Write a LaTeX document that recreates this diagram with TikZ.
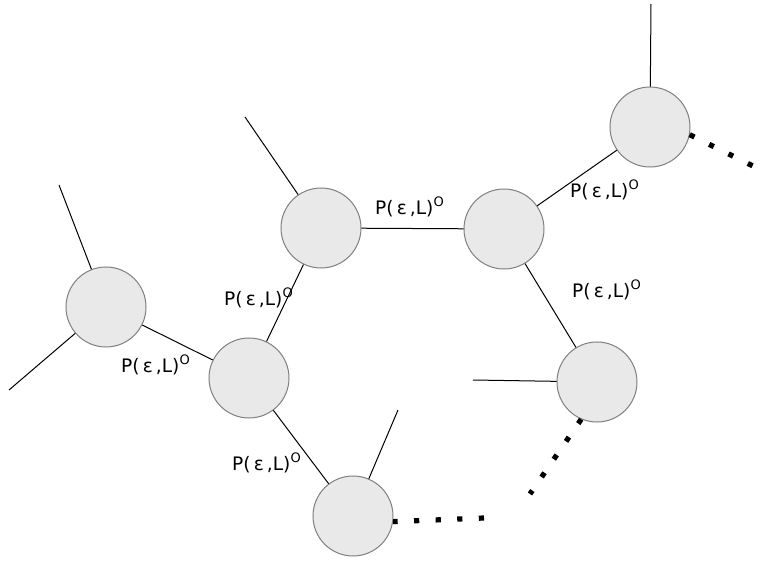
\documentclass[tikz,border=0pt]{standalone}
\usepackage{fontspec}
\setmainfont{DejaVu Sans}
\usetikzlibrary{positioning}

\tikzset{
  site/.style={circle, draw=gray, fill=gray!17, minimum size=40pt, inner sep=0pt, line width=0.5pt},
  bond/.style={line width=0.5pt},
  prob/.style={font=\fontsize{9.3}{11}\selectfont, inner sep=0pt},
  dots/.style={line width=2.6pt, dash pattern=on 2.6pt off 8.2pt}
}
\newcommand{\plabel}{P(\,ε\,,L)\textsuperscript{O}}

\begin{document}
\begin{tikzpicture}[x=0.5pt,y=-0.5pt]
\useasboundingbox (0,0) rectangle (768,562);

\node[site] (s1) at (106,307) {};
\node[site] (s2) at (249,378) {};
\node[site] (s3) at (321,228) {};
\node[site] (s4) at (504,229) {};
\node[site] (s5) at (650,127) {};
\node[site] (s6) at (597,382) {};
\node[site] (s7) at (353,516) {};

% free ends
\coordinate (t1) at (59,185);
\coordinate (t2) at (9,390);
\coordinate (t3) at (245,117);
\coordinate (t4) at (651,4);
\coordinate (t5) at (473,380);
\coordinate (t6) at (398,410);
\coordinate (d1) at (755,167);
\coordinate (d2) at (530,494);
\coordinate (d3) at (484,518);

\foreach \a/\b in {s1/s2,s2/s3,s2/s7,s3/s4,s4/s5,s4/s6} {
\draw[bond] (\a) -- (\b);
};
\foreach \a/\b in {s1/t1,s1/t2,s3/t3,s5/t4,s6/t5,s7/t6} {
\draw[bond] (\a) -- (\b);
};

\draw[dots] (s5.-11) -- (d1);
\draw[dots] (s6.-113) -- (d2);
\draw[dots] (d3) -- (s7.-8);

\node[prob] (p34) at (410,207) {\plabel};
\node[prob] (p45) at (605,190) {\plabel};
\node[prob] (p46) at (607,290) {\plabel};
\node[prob] (p23) at (259,298) {\plabel};
\node[prob] (p12) at (156,365) {\plabel};
\node[prob] (p27) at (267,463) {\plabel};
\end{tikzpicture}
\end{document}
